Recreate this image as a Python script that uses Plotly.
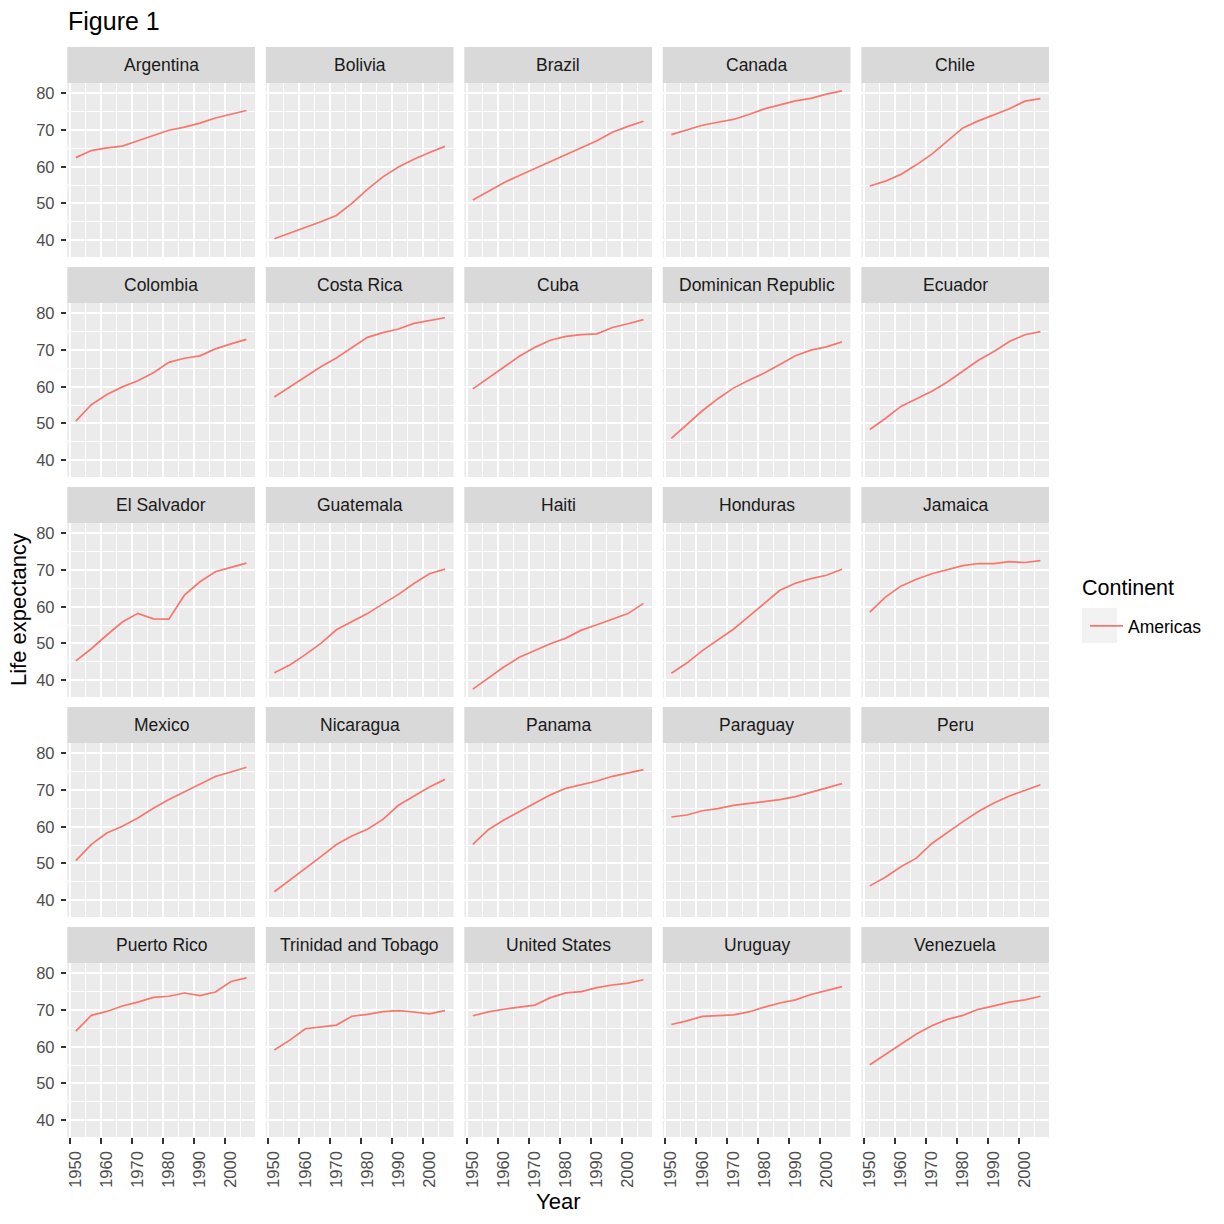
import plotly.graph_objects as go

years = [1952, 1957, 1962, 1967, 1972, 1977, 1982, 1987, 1992, 1997, 2002, 2007]

argentina = [62.485, 64.399, 65.142, 65.634, 67.065, 68.481, 69.942, 70.774, 71.868, 73.275, 74.340, 75.320]
bolivia = [40.414, 41.890, 43.428, 45.032, 46.714, 50.023, 53.859, 57.251, 59.957, 62.050, 63.883, 65.554]
brazil = [50.917, 53.285, 55.665, 57.632, 59.504, 61.489, 63.336, 65.205, 67.057, 69.388, 71.006, 72.390]
canada = [68.750, 69.960, 71.300, 72.130, 72.880, 74.210, 75.760, 76.860, 77.950, 78.610, 79.770, 80.653]
chile = [54.745, 56.074, 57.924, 60.523, 63.441, 67.052, 70.565, 72.492, 74.126, 75.816, 77.860, 78.553]
colombia = [50.643, 55.118, 57.863, 59.963, 61.623, 63.837, 66.653, 67.768, 68.421, 70.313, 71.682, 72.889]
costa_rica = [57.206, 60.026, 62.842, 65.424, 67.849, 70.750, 73.450, 74.752, 75.713, 77.260, 78.123, 78.782]
cuba = [59.421, 62.325, 65.246, 68.290, 70.723, 72.649, 73.717, 74.174, 74.414, 76.151, 77.158, 78.273]
dominican_republic = [45.928, 49.828, 53.459, 56.751, 59.631, 61.788, 63.727, 66.046, 68.457, 69.957, 70.847, 72.235]
ecuador = [48.357, 51.356, 54.640, 56.678, 58.796, 61.310, 64.342, 67.231, 69.613, 72.312, 74.173, 74.994]
el_salvador = [45.262, 48.570, 52.307, 55.855, 58.207, 56.696, 56.604, 63.154, 66.798, 69.535, 70.734, 71.878]
guatemala = [42.023, 44.142, 46.954, 50.016, 53.738, 56.029, 58.137, 60.782, 63.373, 66.322, 68.978, 70.259]
haiti = [37.579, 40.696, 43.590, 46.243, 48.042, 49.923, 51.461, 53.636, 55.089, 56.671, 58.137, 60.916]
honduras = [41.912, 44.665, 48.041, 50.924, 53.884, 57.402, 60.909, 64.492, 66.399, 67.659, 68.565, 70.198]
jamaica = [58.530, 62.610, 65.610, 67.510, 69.000, 70.110, 71.210, 71.770, 71.766, 72.262, 72.047, 72.567]
mexico = [50.789, 55.190, 58.299, 60.110, 62.361, 65.032, 67.405, 69.498, 71.455, 73.670, 74.902, 76.195]
nicaragua = [42.314, 45.432, 48.632, 51.884, 55.151, 57.470, 59.298, 62.008, 65.843, 68.426, 70.836, 72.899]
panama = [55.191, 59.201, 61.817, 64.071, 66.216, 68.681, 70.472, 71.523, 72.462, 73.738, 74.712, 75.537]
paraguay = [62.649, 63.196, 64.361, 64.951, 65.815, 66.353, 66.874, 67.378, 68.225, 69.400, 70.755, 71.752]
peru = [43.902, 46.263, 49.096, 51.445, 55.448, 58.447, 61.406, 64.134, 66.458, 68.386, 69.906, 71.421]
puerto_rico = [64.280, 68.540, 69.620, 71.100, 72.160, 73.440, 73.750, 74.630, 73.911, 74.917, 77.778, 78.746]
trinidad_and_tobago = [59.100, 61.800, 64.900, 65.400, 65.900, 68.300, 68.832, 69.582, 69.862, 69.465, 68.976, 69.819]
united_states = [68.440, 69.490, 70.210, 70.760, 71.340, 73.380, 74.650, 75.020, 76.090, 76.810, 77.310, 78.242]
uruguay = [66.071, 67.044, 68.253, 68.468, 68.673, 69.481, 70.805, 71.918, 72.752, 74.223, 75.307, 76.384]
venezuela = [55.088, 57.907, 60.770, 63.479, 65.712, 67.456, 68.557, 70.190, 71.150, 72.146, 72.766, 73.747]

countries = ["Argentina", "Bolivia", "Brazil", "Canada", "Chile",
             "Colombia", "Costa Rica", "Cuba", "Dominican Republic", "Ecuador",
             "El Salvador", "Guatemala", "Haiti", "Honduras", "Jamaica",
             "Mexico", "Nicaragua", "Panama", "Paraguay", "Peru",
             "Puerto Rico", "Trinidad and Tobago", "United States", "Uruguay", "Venezuela"]
series = [argentina, bolivia, brazil, canada, chile,
          colombia, costa_rica, cuba, dominican_republic, ecuador,
          el_salvador, guatemala, haiti, honduras, jamaica,
          mexico, nicaragua, panama, paraguay, peru,
          puerto_rico, trinidad_and_tobago, united_states, uruguay, venezuela]
continent = "Americas"

x_ticks = [1950, 1960, 1970, 1980, 1990, 2000]
x_minor = [1955, 1965, 1975, 1985, 1995, 2005]
y_ticks = [40, 50, 60, 70, 80]
y_minor = [45, 55, 65, 75]

W = H = 1224
FONT = "Liberation Sans"
LINE_COLOR = "#F8766D"

# layout in pixels
panel_left0 = 67.3
panel_w = 187.7
col_step = 198.5
strip_top0 = 47.0
strip_h = 36.0
panel_h = 174.0
row_step = 220.0

# shared scales with ggplot-like 5% expansion
all_vals = [v for s in series for v in s]
ymin, ymax = min(all_vals), max(all_vals)
yr = ymax - ymin
y_range = [ymin - 0.05 * yr, ymax + 0.05 * yr]
xr = years[-1] - years[0]
x_range = [years[0] - 0.05 * xr, years[-1] + 0.05 * xr]

fig = go.Figure()
shapes = []
annotations = []

for k, (name, vals) in enumerate(zip(countries, series)):
    r, c = divmod(k, 5)
    i = k + 1
    xa = "x" if i == 1 else f"x{i}"
    ya = "y" if i == 1 else f"y{i}"
    left = panel_left0 + c * col_step
    right = left + panel_w
    stop = strip_top0 + r * row_step
    ptop = stop + strip_h
    pbot = ptop + panel_h

    fig.add_trace(go.Scatter(
        x=years, y=vals, mode="lines", name=continent,
        line=dict(color=LINE_COLOR, width=1.7),
        xaxis=xa, yaxis=ya, legendgroup=continent, showlegend=(k == 0),
        hovertemplate=name + "<br>%{x}: %{y}<extra></extra>",
    ))

    bottom_row = (r == 4)
    left_col = (c == 0)
    xkey = "xaxis" if i == 1 else f"xaxis{i}"
    ykey = "yaxis" if i == 1 else f"yaxis{i}"
    fig.layout[xkey] = dict(
        domain=[left / W, right / W], anchor=ya, range=x_range,
        tickmode="array", tickvals=x_ticks, ticktext=[str(t) for t in x_ticks],
        showgrid=True, gridcolor="white", gridwidth=2.2, zeroline=False, showline=False,
        minor=dict(tickmode="array", tickvals=x_minor,
                   showgrid=True, gridcolor="white", gridwidth=1.4, ticks=""),
        ticks="outside" if bottom_row else "", ticklen=5.5, tickwidth=2, tickcolor="#333333",
        showticklabels=bottom_row, tickangle=-90, ticklabelstandoff=1, ticklabelshift=6,
        tickfont=dict(family=FONT, size=16.5, color="#4D4D4D"),
        automargin=False, fixedrange=True,
    )
    fig.layout[ykey] = dict(
        domain=[1 - pbot / H, 1 - ptop / H], anchor=xa, range=y_range,
        tickmode="array", tickvals=y_ticks, ticktext=[str(t) for t in y_ticks],
        showgrid=True, gridcolor="white", gridwidth=2.2, zeroline=False, showline=False,
        minor=dict(tickmode="array", tickvals=y_minor,
                   showgrid=True, gridcolor="white", gridwidth=1.4, ticks=""),
        ticks="outside" if left_col else "", ticklen=5.5, tickwidth=2, tickcolor="#333333",
        showticklabels=left_col, ticklabelstandoff=3,
        tickfont=dict(family=FONT, size=16.5, color="#4D4D4D"),
        automargin=False, fixedrange=True,
    )

    shapes.append(dict(type="rect", xref="paper", yref="paper",
                       x0=left / W, x1=right / W, y0=1 - ptop / H, y1=1 - stop / H,
                       fillcolor="#D9D9D9", line=dict(width=0), layer="below"))
    annotations.append(dict(text=name, xref="paper", yref="paper",
                            x=(left + right) / 2 / W, y=1 - (stop + strip_h / 2) / H,
                            xanchor="center", yanchor="middle", showarrow=False,
                            font=dict(family=FONT, size=17.5, color="#1A1A1A")))

# legend key background (ggplot style)
shapes.append(dict(type="rect", xref="paper", yref="paper",
                   x0=1082 / W, x1=1117 / W, y0=1 - 643 / H, y1=1 - 608 / H,
                   fillcolor="#F2F2F2", line=dict(width=0), layer="below"))

annotations += [
    dict(text="Figure 1", xref="paper", yref="paper", x=66 / W, y=1 - 21 / H,
         xanchor="left", yanchor="middle", showarrow=False,
         font=dict(family=FONT, size=25, color="black")),
    dict(text="Year", xref="paper", yref="paper", x=558 / W, y=1 - 1201 / H,
         xanchor="center", yanchor="middle", showarrow=False,
         font=dict(family=FONT, size=22, color="black")),
    dict(text="Life expectancy", xref="paper", yref="paper", x=18 / W, y=1 - 610 / H,
         xanchor="center", yanchor="middle", textangle=-90, showarrow=False,
         font=dict(family=FONT, size=22, color="black")),
    dict(text="Continent", xref="paper", yref="paper", x=1080 / W, y=1 - 588 / H,
         xanchor="left", yanchor="middle", showarrow=False,
         font=dict(family=FONT, size=21.5, color="black")),
]

fig.update_layout(
    width=W, height=H, margin=dict(l=0, r=0, t=0, b=0, autoexpand=False),
    paper_bgcolor="white", plot_bgcolor="#EBEBEB",
    font=dict(family=FONT, color="black"),
    shapes=shapes, annotations=annotations,
    showlegend=True,
    legend=dict(x=1085 / W, y=1 - 626 / H, xanchor="left", yanchor="middle",
                bgcolor="rgba(0,0,0,0)", borderwidth=0,
                font=dict(family=FONT, size=17.5, color="black"),
                itemwidth=33),
)

fig.write_html("out.html", config={"displayModeBar": False},
               post_script="document.body.style.margin='0';")
